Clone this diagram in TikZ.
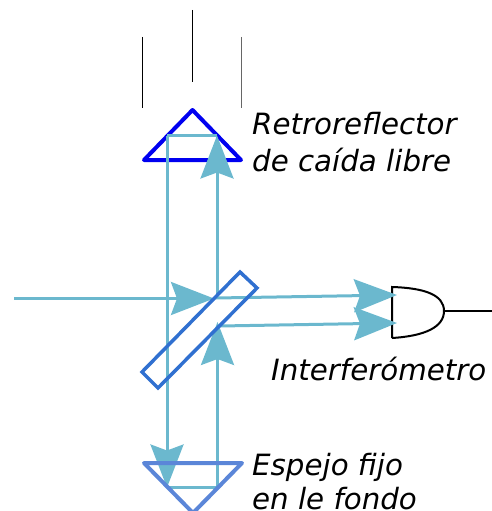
\documentclass[tikz,border=0pt]{standalone}
\usepackage{fontspec}
\setmainfont{DejaVu Sans}
\usepackage{xcolor}
\usetikzlibrary{arrows.meta}
\definecolor{beamcol}{HTML}{6BB8CE}
\definecolor{splitcol}{HTML}{3070D0}
\definecolor{fixedcol}{HTML}{5B86D8}

\begin{document}
\begin{tikzpicture}[
  x=1pt, y=-1pt,
  beam/.style={draw=beamcol, line width=3pt},
  beamarrow/.style={beamcol, line width=3pt, -{Stealth[length=43pt, width=33pt, inset=6pt, fill=beamcol]}},
  drop/.style={line width=1.2pt},
  label/.style={font=\itshape\fontsize{29.3}{34}\selectfont, anchor=base west, align=left, inner sep=0pt}
]
  \useasboundingbox (0,0) rectangle (492,511);

  % falling object track
  \coordinate (t1a) at (142.5,37);
  \coordinate (t1b) at (142.5,108);
  \coordinate (t2a) at (192.5,10);
  \coordinate (t2b) at (192.5,82);
  \coordinate (t3a) at (241.5,37);
  \coordinate (t3b) at (241.5,108);
  \draw[drop] (t1a) -- (t1b);
  \draw[drop] (t2a) -- (t2b);
  \draw[drop, black!60, line width=1.5pt] (t3a) -- (t3b);

  % beam points
  \coordinate (src) at (14,298.5);
  \coordinate (hit) at (214,298.5);
  \coordinate (topl) at (167,135.5);
  \coordinate (topr) at (217,135.5);
  \coordinate (botl) at (167,487.5);
  \coordinate (botr) at (217.5,487.5);
  \coordinate (up1) at (217,296);
  \coordinate (up2) at (217.5,322);
  \coordinate (out1) at (216,298);
  \coordinate (out2) at (220,326);
  \coordinate (in1) at (397,295);
  \coordinate (in2) at (397,323);
  \coordinate (gateout) at (444,311);
  \coordinate (wire) at (492,311);

  % detector
  \draw[line width=2pt] (392,338) -- (392,287) .. controls (425,288) and (444,295) .. (gateout)
    .. controls (444,327) and (425,336) .. (392,338);
  \draw[line width=2pt] (gateout) -- (wire);

  % mirrors
  \draw[blue!94!black, line width=4pt, line join=round] (192.5,110) -- (241,160) -- (144,160) -- cycle;
  \draw[beam] (topl) -- (topr);
  \draw[beamarrow] (up1) -- (topr);
  \draw[beam] (topl) -- (167,445);
  \draw[beamarrow] (167,445) -- (botl);
  \draw[beam] (botl) -- (botr);
  \draw[beamarrow] (botr) -- (up2);
  \draw[beamarrow] (src) -- (hit);
  \draw[beamarrow] (out1) -- (in1);
  \draw[beamarrow] (out2) -- (in2);

  \draw[splitcol, line width=3.5pt] (240,272) -- (257,288) -- (158,388) -- (142,372) -- cycle;
  \draw[fixedcol, line width=4pt, line join=round] (144,463) -- (242,463) -- (193,513) -- cycle;

  \node[label] (retro) at (252,134) {Retroreflector};
  \node[label] (caida) at (252,171) {de caída libre};
  \node[label] (inter) at (271,380) {Interferómetro};
  \node[label] (espejo) at (252,475) {Espejo fijo};
  \node[label] (fondo) at (252,509) {en le fondo};
\end{tikzpicture}
\end{document}
